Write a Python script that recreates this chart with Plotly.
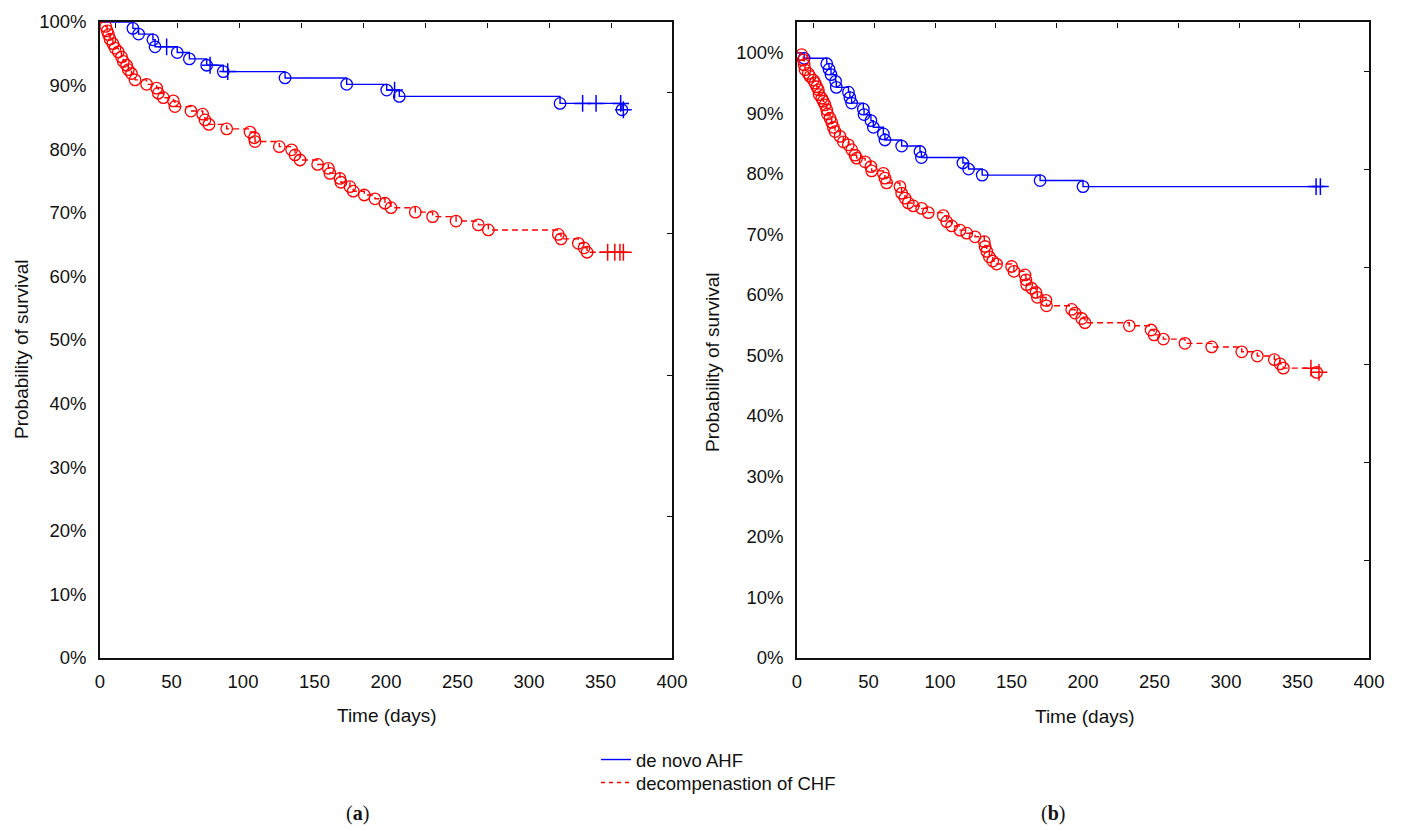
import plotly.graph_objects as go

# ---------------- data ----------------
# Panel (a): de novo AHF
ahf_a_t = [23, 27, 37, 38.5, 54, 62.5, 74.6, 86.2, 129.4, 172.5, 200.5, 209.3, 321.7, 365]
ahf_a_s = [99.0, 98.1, 97.2, 96.1, 95.2, 94.2, 93.2, 92.2, 91.2, 90.2, 89.3, 88.3, 87.2, 86.2]
ahf_a_cens = [46.6, 77, 89.3, 206, 337.5, 346.9, 364.1, 366]

# Panel (a): decompensation of CHF
chf_a_t = [4, 5, 6, 7, 9, 10.5, 12.8, 15, 16.3, 18.6,
           19.8, 22, 24.5, 32.6, 39.6, 40.8, 44.3, 51.3, 52.4, 63.6,
           71.8, 73.4, 76.2, 88.6, 104.9, 107.9, 108.4, 125.4, 134, 136.4,
           139.9, 152.2, 159.7, 160.8, 167.8, 168.5, 174.8, 177.1, 184.8, 192.3,
           199.3, 203.5, 220.5, 232.6, 249, 264.6, 271.6, 320.5, 322.4, 334.5,
           338.5, 340.6]
chf_a_s = [99.3, 98.6, 98.0, 97.3, 96.6, 95.9, 95.3, 94.5, 93.8, 93.2,
           92.5, 91.9, 90.9, 90.2, 89.6, 88.8, 88.1, 87.6, 86.7, 86.0,
           85.5, 84.6, 83.9, 83.2, 82.7, 81.8, 81.2, 80.4, 79.9, 79.1,
           78.3, 77.6, 77.0, 76.2, 75.4, 74.8, 74.1, 73.4, 72.8, 72.2,
           71.5, 70.8, 70.1, 69.4, 68.7, 68.1, 67.3, 66.6, 65.9, 65.2,
           64.5, 63.8]
chf_a_cens = [355, 360, 363.6, 366]

# Panel (b): de novo AHF
ahf_b_t = [5, 20.8, 22.4, 23.8, 27, 27.5, 36, 37, 38.2, 46.4, 46.9, 51.7,
           53.4, 60.4, 61.5, 73.2, 86, 87, 116, 120, 129.5, 170, 200]
ahf_b_s = [99.1, 98.2, 97.3, 96.4, 95.3, 94.3, 93.5, 92.6, 91.7, 90.7, 89.8, 88.8,
           87.7, 86.6, 85.6, 84.6, 83.7, 82.7, 81.8, 80.8, 79.8, 78.9, 77.9]
ahf_b_cens = [363, 366]

# Panel (b): decompensation of CHF
chf_b_t = [3.3, 4.4, 5, 5.6, 7.9, 9.1, 11.4, 12.6, 13.8, 14.9,
           15.5, 17.3, 18.4, 19.6, 20.8, 21.3, 23.1, 24.3, 25.4, 26.6,
           30.1, 32.4, 35.9, 38.3, 40.6, 41.7, 47.6, 51.7, 52.2, 60.4,
           61.5, 62.7, 72, 73.2, 75.5, 77.8, 81.3, 87.2, 91.8, 102.3,
           104.7, 108.2, 114, 118.7, 124.5, 131, 131.5, 132.7, 134.5, 136.9,
           139.6, 150.1, 151.7, 159.4, 160.1, 160.6, 164.1, 167.1, 168.1, 174.1,
           174.5, 192.1, 194.4, 199.1, 201.4, 232.4, 247.6, 249.7, 256.2, 271.3,
           290, 311, 321.9, 333.8, 337.8, 340.1, 363.4]
chf_b_s = [99.7, 98.8, 98.0, 97.2, 96.6, 96.1, 95.5, 95.0, 94.4, 93.9,
           93.1, 92.5, 92.0, 91.4, 90.6, 89.9, 89.2, 88.5, 87.7, 87.0,
           86.2, 85.3, 84.8, 84.0, 83.1, 82.6, 82.0, 81.2, 80.5, 80.1,
           79.3, 78.5, 77.9, 76.8, 76.0, 75.2, 74.7, 74.3, 73.6, 73.1,
           72.1, 71.4, 70.7, 70.2, 69.6, 68.8, 68.0, 67.2, 66.3, 65.6,
           65.1, 64.7, 63.9, 63.3, 62.5, 61.7, 61.1, 60.4, 59.6, 59.1,
           58.2, 57.6, 57.0, 56.1, 55.4, 54.9, 54.2, 53.4, 52.7, 52.0,
           51.4, 50.6, 49.9, 49.3, 48.6, 47.9, 47.2]
chf_b_cens = [359.4, 365]

x_ticks = [0, 50, 100, 150, 200, 250, 300, 350, 400]
y_ticks = [0, 10, 20, 30, 40, 50, 60, 70, 80, 90, 100]
y_tick_text = [f"{v}%" for v in y_ticks]
# minor inner ticks on the top / right frame
top_ticks_a = [10.5, 53.9, 97.3, 140.7, 184.1, 227.5, 270.9, 314.3, 357.7]
top_ticks_b = [11.6, 54.1, 96.6, 139.1, 181.6, 224.1, 266.6, 309.1, 351.6]
right_ticks_a = [0, 22.22, 44.44, 66.67, 88.89]
right_ticks_b = [0, 16.15, 32.3, 48.45, 64.6, 80.75, 96.9]

names = ["de novo AHF", "decompenastion of CHF"]
BLUE = "#0000ff"
RED = "#ff0000"

# ---------------- figure ----------------
W, H = 1402, 830
OFF = 8  # default page-body margin shifts the figure by 8px
FONT = "Liberation Sans, Arial, sans-serif"
INK = "#111111"


def px_x(p):
    return (p - OFF) / W


def px_y(p):
    return 1 - (p - OFF) / H


def level_at(ts, ss, t):
    v = 100.0
    for te, se in zip(ts, ss):
        if te <= t:
            v = se
    return v


fig = go.Figure()

panels = [
    ("x", "y", ahf_a_t, ahf_a_s, ahf_a_cens, chf_a_t, chf_a_s, chf_a_cens),
    ("x2", "y2", ahf_b_t, ahf_b_s, ahf_b_cens, chf_b_t, chf_b_s, chf_b_cens),
]

for xa, ya, at, as_, ac, ct, cs, cc in panels:
    for ts, ss, cens, col, dash in [(at, as_, ac, BLUE, "solid"),
                                   (ct, cs, cc, RED, "6px,4px")]:
        t_end = max(ts + cens)
        lx = [0] + ts + [t_end]
        ly = [100] + ss + [ss[-1]]
        fig.add_trace(go.Scatter(x=lx, y=ly, mode="lines", line_shape="hv",
                                 line=dict(color=col, width=1.4, dash=dash),
                                 xaxis=xa, yaxis=ya, showlegend=False,
                                 hoverinfo="skip", cliponaxis=False))
        fig.add_trace(go.Scatter(x=ts, y=ss, mode="markers",
                                 marker=dict(symbol="circle-open", size=11.5, color=col,
                                             line=dict(width=1.3, color=col)),
                                 xaxis=xa, yaxis=ya, showlegend=False,
                                 hoverinfo="skip", cliponaxis=False))
        fig.add_trace(go.Scatter(x=cens, y=[level_at(ts, ss, c) for c in cens],
                                 mode="markers",
                                 marker=dict(symbol="cross-thin-open", size=12, color=col,
                                             line=dict(width=1.5, color=col)),
                                 xaxis=xa, yaxis=ya, showlegend=False,
                                 hoverinfo="skip", cliponaxis=False))

# legend-only traces (each in its own legend for tight row spacing)
fig.add_trace(go.Scatter(x=[None], y=[None], mode="lines", name=names[0],
                         line=dict(color=BLUE, width=1.4), legend="legend"))
fig.add_trace(go.Scatter(x=[None], y=[None], mode="lines", name=names[1],
                         line=dict(color=RED, width=1.4, dash="4px,4px"), legend="legend2"))

# invisible traces to activate the tick-only frame axes
for xa, ya in [("x3", "y3"), ("x4", "y4")]:
    fig.add_trace(go.Scatter(x=[0], y=[0], mode="markers", marker=dict(opacity=0),
                             xaxis=xa, yaxis=ya, showlegend=False, hoverinfo="skip"))

tickfont = dict(family=FONT, size=18.5, color=INK)

xa_common = dict(range=[0, 400], tickvals=x_ticks, ticks="", showline=True, mirror=True,
                 linecolor=INK, linewidth=1.6, showgrid=False, zeroline=False,
                 tickfont=tickfont, ticklabelstandoff=6, fixedrange=True, automargin=False)
ya_common = dict(tickvals=y_ticks, ticktext=y_tick_text, ticks="", showline=True, mirror=True,
                 linecolor=INK, linewidth=1.6, showgrid=False, zeroline=False,
                 tickfont=tickfont, ticklabelstandoff=8, fixedrange=True, automargin=False)

dom_xa = [px_x(100), px_x(672)]
dom_xb = [px_x(797), px_x(1369)]
dom_y = [px_y(658), px_y(22)]

tick_over = dict(showline=False, showgrid=False, zeroline=False, showticklabels=False,
                 ticks="outside", ticklen=5, tickwidth=1.4, tickcolor=INK,
                 fixedrange=True, automargin=False, anchor="free")

fig.update_layout(
    width=W, height=H, autosize=False,
    margin=dict(l=0, r=0, t=0, b=0, autoexpand=False),
    paper_bgcolor="white", plot_bgcolor="rgba(0,0,0,0)",
    font=dict(family=FONT, size=18.5, color=INK),
    xaxis=dict(domain=dom_xa, anchor="y", **xa_common),
    yaxis=dict(domain=dom_y, anchor="x", range=[0, 100], **ya_common),
    xaxis2=dict(domain=dom_xb, anchor="y2", **xa_common),
    yaxis2=dict(domain=dom_y, anchor="x2", range=[0, 105.1], **ya_common),
    # ticks on the top edge pointing down, right edge pointing left
    xaxis3=dict(overlaying="x", side="bottom", position=dom_y[1], range=[0, 400],
                tickvals=top_ticks_a, **tick_over),
    yaxis3=dict(overlaying="y", side="left", position=dom_xa[1], range=[0, 100],
                tickvals=right_ticks_a, **tick_over),
    xaxis4=dict(overlaying="x2", side="bottom", position=dom_y[1], range=[0, 400],
                tickvals=top_ticks_b, **tick_over),
    yaxis4=dict(overlaying="y2", side="left", position=dom_xb[1], range=[0, 105.1],
                tickvals=right_ticks_b, **tick_over),
    legend=dict(x=px_x(596), y=px_y(741), xanchor="left", yanchor="top",
                font=dict(family=FONT, size=18.5, color=INK),
                bgcolor="rgba(0,0,0,0)", borderwidth=0, itemwidth=30),
    legend2=dict(x=px_x(596), y=px_y(764), xanchor="left", yanchor="top",
                 font=dict(family=FONT, size=18.5, color=INK),
                 bgcolor="rgba(0,0,0,0)", borderwidth=0, itemwidth=30),
    showlegend=True,
)

annots = [
    dict(text="Probability of survival", x=px_x(21), y=px_y(349), textangle=-90, size=19),
    dict(text="Probability of survival", x=px_x(712), y=px_y(362), textangle=-90, size=19),
    dict(text="Time (days)", x=px_x(387), y=px_y(715), textangle=0, size=19),
    dict(text="Time (days)", x=px_x(1085), y=px_y(716), textangle=0, size=19),
]
for a in annots:
    fig.add_annotation(text=a["text"], x=a["x"], y=a["y"], xref="paper", yref="paper",
                       xanchor="center", yanchor="middle", showarrow=False,
                       textangle=a["textangle"],
                       font=dict(family=FONT, size=a["size"], color=INK))

for lab, xp in [("a", 357), ("b", 1053)]:
    fig.add_annotation(text=f"(<b>{lab}</b>)", x=px_x(xp), y=px_y(813), xref="paper",
                       yref="paper", xanchor="center", yanchor="middle", showarrow=False,
                       font=dict(family="Liberation Serif, Times New Roman, serif",
                                 size=20, color=INK))

fig.write_html("out.html")
